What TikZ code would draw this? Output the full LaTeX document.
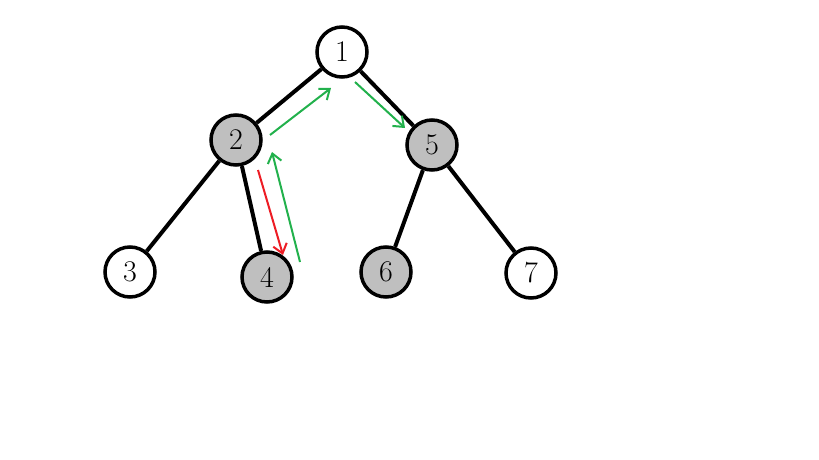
\documentclass[tikz,border=0pt]{standalone}
\usetikzlibrary{arrows.meta}
\definecolor{pgreen}{HTML}{22B14C}
\definecolor{pred}{HTML}{ED1C24}
\begin{document}
\begin{tikzpicture}[x=1pt,y=-1pt,
  nd/.style={circle,draw,line width=3.5pt,minimum size=50pt,inner sep=0pt,font=\fontsize{30}{32}\selectfont},
  wh/.style={nd,fill=white},
  gr/.style={nd,fill=black!25},
  edge/.style={line width=4pt},
  gar/.style={draw=pgreen,line width=2pt,-{Straight Barb[length=9pt,width=14pt]}},
  rar/.style={draw=pred,line width=2pt,-{Straight Barb[length=9pt,width=14pt]}}]
\useasboundingbox (0,0) rectangle (819,460);
\node[wh] (n1) at (342,52) {1};
\node[gr] (n2) at (236,140) {2};
\node[gr] (n5) at (432,145) {5};
\node[wh] (n3) at (130,272) {3};
\node[gr] (n4) at (267,277) {4};
\node[gr] (n6) at (386,272) {6};
\node[wh] (n7) at (531,273) {7};
\foreach \a/\b in {n1/n2,n1/n5,n2/n3,n2/n4,n5/n6,n5/n7}
  \draw[edge] (\a) -- (\b);
\coordinate (r1) at (258,170); \coordinate (r2) at (283,255);
\coordinate (g1) at (300,262); \coordinate (g2) at (272,152);
\coordinate (g3) at (270,135); \coordinate (g4) at (331,88);
\coordinate (g5) at (355,82); \coordinate (g6) at (405,128);
\draw[rar] (r1) -- (r2);
\draw[gar] (g1) -- (g2);
\draw[gar] (g3) -- (g4);
\draw[gar] (g5) -- (g6);
\end{tikzpicture}
\end{document}
